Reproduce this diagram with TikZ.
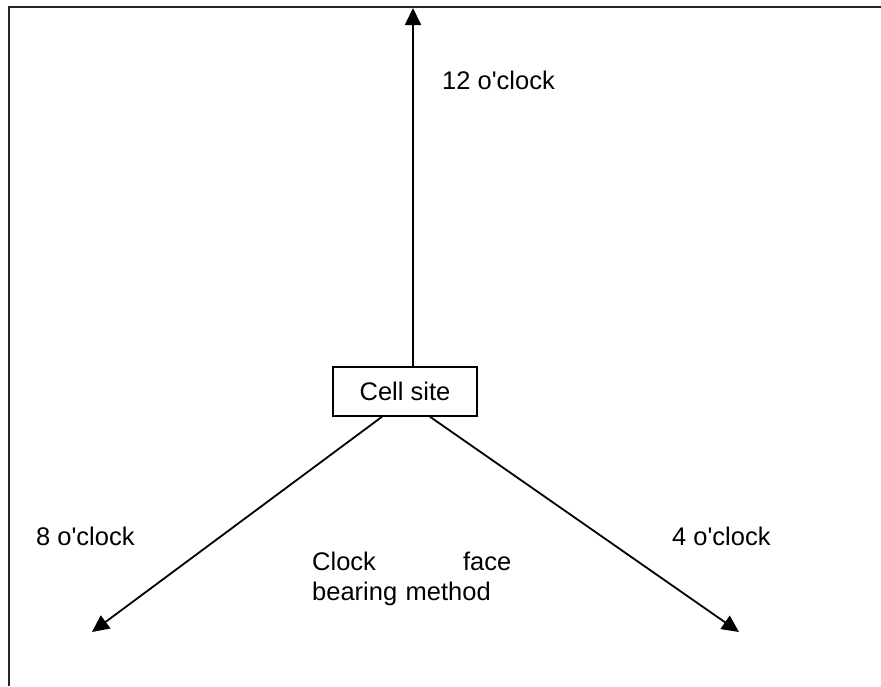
\documentclass[tikz,border=0pt]{standalone}
\usepackage{fontspec}
\setmainfont{Liberation Sans}[Ligatures=TeXOff]
\usetikzlibrary{arrows.meta}
\begin{document}
\begin{tikzpicture}[x=1pt,y=-1pt,
  every node/.style={font=\fontsize{25.5}{30}\selectfont},
  frameline/.style={line width=2.2pt, draw=black!85},
  conn/.style={line width=1.8pt, -{Triangle[length=17pt,width=16pt]}},
  lbl/.style={anchor=base west, inner sep=0pt},
  sitebox/.style={draw, line width=1.5pt, minimum width=144pt, minimum height=49pt, inner sep=0pt}]
\useasboundingbox (0,0) rectangle (881,686);
\fill[white] (0,0) rectangle (881,686);
% frame
\draw[frameline] (9,686) -- (9,7) -- (881,7);
% nodes
\node[sitebox] (site) at (405,391.5) {Cell site};
\coordinate (tip12) at (413,8);
\coordinate (tip8) at (92,632);
\coordinate (tip4) at (739,632);
% connectors
\draw[conn] (site.north -| tip12) -- (tip12);
\draw[conn] ([xshift=-23pt]site.south) -- (tip8);
\draw[conn] ([xshift=25pt]site.south) -- (tip4);
% labels
\node[lbl] (l12) at (442,89) {12 o'clock};
\node[lbl] (l8) at (36,545) {8 o'clock};
\node[lbl] (l4) at (672,545) {4 o'clock};
\node[lbl, text width=199pt, align=left] (cap) at (312,570) {Clock\hfill face\\bearing method};
\end{tikzpicture}
\end{document}
